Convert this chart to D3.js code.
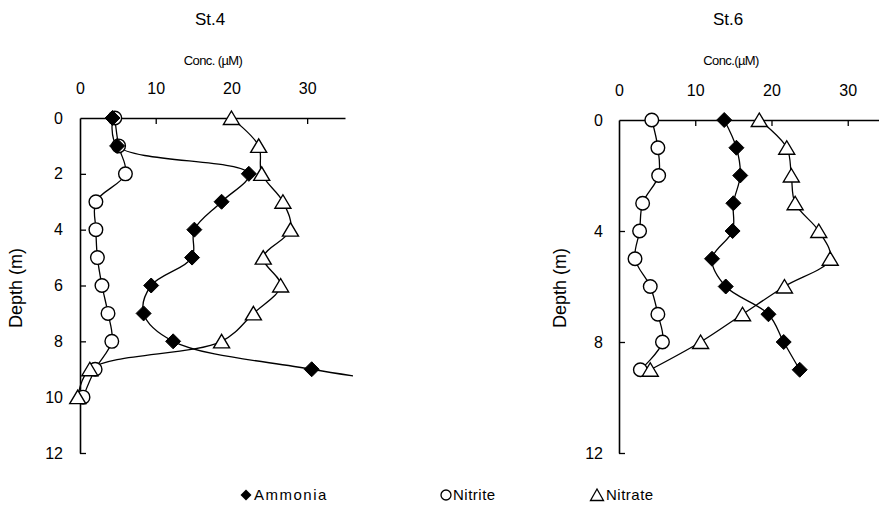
<!DOCTYPE html>
<html>
<head>
<meta charset="utf-8">
<script src="https://cdn.jsdelivr.net/npm/d3@7"></script>
<style>
  body { margin: 0; background: #fff; }
  svg text { font-family: Arial, "Liberation Sans", sans-serif; fill: #000; }
</style>
</head>
<body>
<div id="chart"></div>
<script>
// depths (m) for each station
const depth4 = [0, 1, 2, 3, 4, 5, 6, 7, 8, 9, 10];
const depth6 = [0, 1, 2, 3, 4, 5, 6, 7, 8, 9];

// St.4 concentrations (uM)
const ammonia4 = [4.3, 4.9, 22.3, 18.7, 15.1, 14.8, 9.4, 8.4, 12.3, 30.6, 56];
const nitrite4 = [4.6, 5.1, 6.0, 2.1, 2.1, 2.3, 2.9, 3.7, 4.2, 2.0, 0.4];
const nitrate4 = [20.0, 23.6, 24.0, 26.8, 27.8, 24.2, 26.5, 22.9, 18.7, 1.3, -0.3];

// St.6 concentrations (uM)
const ammonia6 = [13.8, 15.4, 15.9, 15.0, 14.9, 12.2, 14.0, 19.6, 21.6, 23.7];
const nitrite6 = [4.3, 5.1, 5.2, 3.1, 2.7, 2.1, 4.1, 5.1, 5.7, 2.8];
const nitrate6 = [18.4, 22.0, 22.6, 23.1, 26.2, 27.7, 21.7, 16.2, 10.7, 4.1];

const xTicks = [0, 10, 20, 30];
const yTicks4 = [0, 2, 4, 6, 8, 10, 12];
const yTicks6 = [0, 4, 8, 12];

const svg = d3.select("#chart").append("svg")
    .attr("width", 879)
    .attr("height", 520);

function panel(opts) {
    const x = d3.scaleLinear().domain([0, opts.xMax]).range([opts.left, opts.right]);
    const y = d3.scaleLinear().domain([0, 12]).range([opts.top, opts.bottom]);
    const g = svg.append("g");

    const clipId = "clip" + opts.id;
    svg.append("clipPath").attr("id", clipId)
        .append("rect")
        .attr("x", opts.left - 12).attr("y", opts.top - 12)
        .attr("width", opts.right - opts.left + 20)
        .attr("height", opts.bottom - opts.top + 20);

    // top axis
    const xAxis = g.append("g")
        .attr("transform", "translate(0," + opts.top + ")")
        .call(d3.axisTop(x).tickValues(xTicks).tickSize(-6).tickPadding(24).tickSizeOuter(0));
    xAxis.select(".domain").attr("stroke-width", 1.6);
    xAxis.selectAll(".tick line").attr("stroke-width", 1.3)
        .attr("display", d => d === 0 ? "none" : null);
    xAxis.selectAll("text").attr("font-size", 16).attr("font-family", "Arial, 'Liberation Sans', sans-serif");

    // left axis
    const yAxis = g.append("g")
        .attr("transform", "translate(" + opts.left + ",0)")
        .call(d3.axisLeft(y).tickValues(opts.yTicks).tickSize(-6).tickPadding(opts.yPad).tickSizeOuter(0));
    yAxis.select(".domain").attr("stroke-width", 1.6);
    yAxis.selectAll(".tick line").attr("stroke-width", 1.3)
        .attr("display", d => d === 0 ? "none" : null);
    yAxis.selectAll("text").attr("font-size", 16).attr("font-family", "Arial, 'Liberation Sans', sans-serif");

    g.append("text")
        .attr("x", opts.titleX).attr("y", 25)
        .attr("text-anchor", "middle")
        .attr("font-size", 17)
        .text(opts.title);
    g.append("text")
        .attr("x", opts.titleX + 3).attr("y", 65)
        .attr("text-anchor", "middle")
        .attr("font-size", 13)
        .attr("letter-spacing", -0.6)
        .text(opts.unit);

    const line = d3.line()
        .x(d => x(d[0]))
        .y(d => y(d[1]))
        .curve(d3.curveCatmullRom.alpha(0.5));

    const series = [
        { vals: opts.nitrite, shape: "circle" },
        { vals: opts.nitrate, shape: "triangle" },
        { vals: opts.ammonia, shape: "diamond" }
    ];

    const plot = g.append("g").attr("clip-path", "url(#" + clipId + ")");
    series.forEach(s => {
        const pts = s.vals.map((v, i) => [v, opts.depth[i]]);
        plot.append("path")
            .datum(pts)
            .attr("fill", "none")
            .attr("stroke", "#000")
            .attr("stroke-width", 1.3)
            .attr("d", line);
    });
    series.forEach(s => {
        const pts = s.vals.map((v, i) => [v, opts.depth[i]]).filter(p => p[0] <= opts.xMax);
        const m = plot.selectAll(null).data(pts).enter();
        if (s.shape === "circle") {
            m.append("circle")
                .attr("cx", d => x(d[0])).attr("cy", d => y(d[1]))
                .attr("r", 6.8)
                .attr("fill", "#fff").attr("stroke", "#000").attr("stroke-width", 1.4);
        } else if (s.shape === "triangle") {
            m.append("path")
                .attr("transform", d => "translate(" + x(d[0]) + "," + y(d[1]) + ")")
                .attr("d", "M0,-7L8,6.5L-8,6.5Z")
                .attr("fill", "#fff").attr("stroke", "#000").attr("stroke-width", 1.4);
        } else {
            m.append("path")
                .attr("transform", d => "translate(" + x(d[0]) + "," + y(d[1]) + ")")
                .attr("d", "M0,-7.5L7.5,0L0,7.5L-7.5,0Z")
                .attr("fill", "#000").attr("stroke", "#000").attr("stroke-width", 1);
        }
    });
}

panel({
    id: 4, title: "St.4", unit: "Conc. (\u00b5M)", titleX: 210,
    left: 80, right: 345, xMax: 35, top: 118, bottom: 453, yPad: 17,
    yTicks: yTicks4, depth: depth4,
    ammonia: ammonia4, nitrite: nitrite4, nitrate: nitrate4
});

panel({
    id: 6, title: "St.6", unit: "Conc.(\u00b5M)", titleX: 728,
    left: 619, right: 879, xMax: 34.1, top: 120, bottom: 453, yPad: 16,
    yTicks: yTicks6, depth: depth6,
    ammonia: ammonia6, nitrite: nitrite6, nitrate: nitrate6
});

// y axis titles
svg.append("text")
    .attr("transform", "translate(22,288) rotate(-90)")
    .attr("text-anchor", "middle")
    .attr("font-size", 18)
    .text("Depth (m)");
svg.append("text")
    .attr("transform", "translate(566,288) rotate(-90)")
    .attr("text-anchor", "middle")
    .attr("font-size", 18)
    .text("Depth (m)");

// legend
const legend = svg.append("g").attr("transform", "translate(0,500)");
legend.append("path")
    .attr("transform", "translate(246,-5)")
    .attr("d", "M0,-5.5L5.5,0L0,5.5L-5.5,0Z")
    .attr("fill", "#000");
legend.append("text").attr("x", 254).attr("y", 0).attr("font-size", 15)
    .attr("letter-spacing", 1.5).text("Ammonia");
legend.append("circle")
    .attr("cx", 446).attr("cy", -5).attr("r", 5)
    .attr("fill", "#fff").attr("stroke", "#000").attr("stroke-width", 1.3);
legend.append("text").attr("x", 453).attr("y", 0).attr("font-size", 15)
    .attr("letter-spacing", 0.5).text("Nitrite");
legend.append("path")
    .attr("transform", "translate(597,-5)")
    .attr("d", "M0,-6L6.5,5.5L-6.5,5.5Z")
    .attr("fill", "#fff").attr("stroke", "#000").attr("stroke-width", 1.3);
legend.append("text").attr("x", 606).attr("y", 0).attr("font-size", 15)
    .attr("letter-spacing", 0.5).text("Nitrate");
</script>
</body>
</html>
